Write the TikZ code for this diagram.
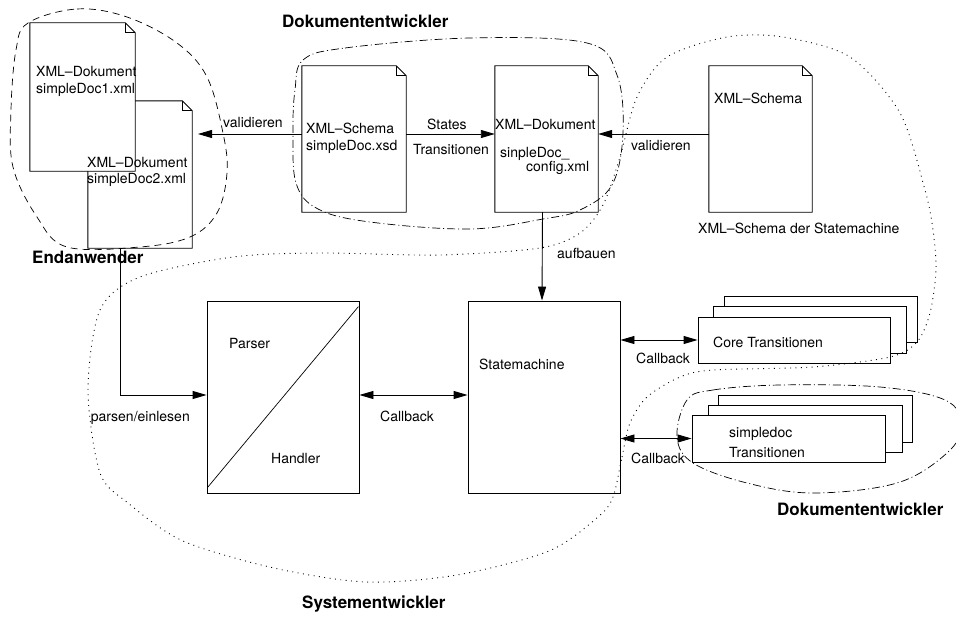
\documentclass[tikz,border=0pt]{standalone}
\usepackage{fontspec}
\setmainfont{TeX Gyre Heros}
\usetikzlibrary{arrows.meta}
\tikzset{
  lbl/.style={font=\fontsize{14}{16}\selectfont, inner sep=0pt, anchor=base west},
  lblr/.style={font=\fontsize{14}{16}\selectfont, inner sep=0pt, anchor=base east},
  role/.style={font=\fontsize{17}{20}\selectfont\bfseries, inner sep=0pt, anchor=base west},
  docline/.style={line width=0.9pt, black},
  anchorbox/.style={draw=none, fill=none, inner sep=0pt},
  plainbox/.style={draw, line width=0.9pt, fill=white, inner sep=0pt},
  arr/.style={line width=0.9pt, -{Triangle[length=14pt,width=8pt]}},
  darr/.style={line width=0.9pt, {Triangle[length=14pt,width=8pt]}-{Triangle[length=14pt,width=8pt]}},
  blobdash/.style={line width=0.7pt, dash pattern=on 7pt off 5pt},
  blobdashdot/.style={line width=0.7pt, dash pattern=on 8pt off 3pt on 1pt off 3pt},
  blobdot/.style={line width=0.9pt, dash pattern=on 0.9pt off 4.5pt},
}
\newcommand{\foldeddoc}[1]{%
  \filldraw[docline, fill=white] (#1.north west) -- ([xshift=-10pt]#1.north east) -- ([yshift=-10pt]#1.north east) -- (#1.south east) -- (#1.south west) -- cycle;
  \draw[docline] ([xshift=-10pt]#1.north east) -- ([xshift=-10pt,yshift=-10pt]#1.north east) -- ([yshift=-10pt]#1.north east);}
\begin{document}
\begin{tikzpicture}[x=1pt,y=-1pt]
\useasboundingbox (0,0) rectangle (956,618);

% documents
\node[anchorbox, minimum width=104pt, minimum height=147pt] (doc2) at (140,174.5) {};
\foldeddoc{doc2}
\node[anchorbox, minimum width=105pt, minimum height=148pt] (doc1) at (82.5,97) {};
\foldeddoc{doc1}
\node[anchorbox, minimum width=104pt, minimum height=146pt] (schema) at (354,139) {};
\foldeddoc{schema}
\node[anchorbox, minimum width=103pt, minimum height=146pt] (config) at (546.5,139) {};
\foldeddoc{config}
\node[anchorbox, minimum width=103pt, minimum height=146pt] (smschema) at (760.5,139) {};
\foldeddoc{smschema}

% texts in documents
\node[lbl] (d1a) at (36,77) {XML–Dokument};
\node[lbl] (d1b) at (36,93) {simpleDoc1.xml};
\node[lbl] (d2a) at (87,167) {XML–Dokument};
\node[lbl] (d2b) at (87,183) {simpleDoc2.xml};
\node[lbl] (sa) at (306,133) {XML–Schema};
\node[lbl] (sb) at (306,150) {simpleDoc.xsd};
\node[lbl] (ca) at (495,129) {XML–Dokument};
\node[lbl] (cb) at (500,157) {sinpleDoc\_};
\node[lbl] (cc) at (526,171) {config.xml};
\node[lbl] (ma) at (714,103) {XML–Schema};
\node[lbl] (mb) at (698,233) {XML–Schema der Statemachine};

% main boxes
\node[plainbox, minimum width=152pt, minimum height=192pt] (parser) at (283,397) {};
\draw[line width=0.7pt] ([xshift=1pt,yshift=6pt]parser.south west) -- ([xshift=-1pt,yshift=-6pt]parser.north east);
\node[lbl] (ptxt) at (229,348) {Parser};
\node[lbl] (htxt) at (271,463) {Handler};
\node[plainbox, minimum width=152pt, minimum height=192pt] (sm) at (544,397) {};
\node[lbl] (smtxt) at (479,369) {Statemachine};

% core transitions stack
\node[plainbox, minimum width=193pt, minimum height=46pt] (core3) at (820.5,319) {};
\node[plainbox, minimum width=193pt, minimum height=47pt] (core2) at (809.5,329.5) {};
\node[plainbox, minimum width=192pt, minimum height=46pt] (core1) at (794,340) {};
\node[lbl] (coretxt) at (713,347) {Core Transitionen};

% simpledoc transitions stack
\node[plainbox, minimum width=194pt, minimum height=47pt] (sd3) at (815,418.5) {};
\node[plainbox, minimum width=194pt, minimum height=47pt] (sd2) at (805,428.5) {};
\node[plainbox, minimum width=193pt, minimum height=47pt] (sd1) at (788.5,438.5) {};
\node[lbl] (sdtxt1) at (729,437) {simpledoc};
\node[lbl] (sdtxt2) at (729,457) {Transitionen};

% connectors
\coordinate (vtip) at (198,134);
\draw[arr] (schema.west |- vtip) -- (vtip);
\node[lbl] (vl1) at (223,128) {validieren};
\draw[arr] ([yshift=5pt]schema.east) -- ([yshift=5pt]config.west);
\node[lbl] (st) at (427,129) {States};
\node[lbl] (tr) at (413,154) {Transitionen};
\draw[arr] ([yshift=5pt]smschema.west) -- ([yshift=5pt]config.east);
\node[lbl] (vl2) at (631,150) {validieren};
\draw[arr] ([xshift=-4pt]config.south) -- ([xshift=-2pt]sm.north);
\node[lbl] (auf) at (557,258) {aufbauen};
\draw[arr] ([xshift=-20pt]doc2.south) |- ([yshift=2pt]parser.west);
\node[lblr] (pe) at (190,421) {parsen/einlesen};
\draw[darr] ([yshift=2pt]parser.east) -- ([yshift=2pt]sm.west);
\node[lbl] (cb1) at (380,421) {Callback};
\draw[darr] (sm.east |- core1.west) -- (core1.west);
\node[lbl] (cb2) at (636,363) {Callback};
\draw[darr] (sm.east |- sd1.west) -- (sd1.west);
\node[lbl] (cb3) at (631,463) {Callback};

% role labels
\node[role] (r1) at (282,28) {Dokumententwickler};
\node[role] (r2) at (32,263) {Endanwender};
\node[role] (r3) at (777,515) {Dokumententwickler};
\node[role] (r4) at (302,608) {Systementwickler};

% group outlines
\draw[blobdash] plot[smooth cycle, tension=0.6] coordinates {(28,23) (77,9) (127,17) (177,43) (207,77) (223,133) (227,173) (217,213) (190,237) (140,247) (67,247) (37,217) (13,167) (11,110) (16,50)};
\draw[blobdashdot] plot[smooth cycle, tension=0.6] coordinates {(303,60) (345,48) (470,38) (587,43) (617,75) (623,133) (612,185) (580,210) (543,219) (470,229) (370,222) (318,209) (296,183) (293,130) (295,90)};
\draw[blobdashdot] plot[smooth cycle, tension=0.6] coordinates {(687,400) (713,390) (780,385) (880,387) (945,400) (962,425) (947,453) (897,483) (813,493) (747,483) (693,463) (677,437)};
\draw[blobdot] plot[smooth cycle, tension=0.5] coordinates {(613,497) (622,457) (630,423) (647,397) (680,377) (713,370) (813,367) (890,357) (917,342) (930,313) (936,270) (933,230) (925,190) (900,113) (850,57) (783,37) (727,37) (667,57) (637,97) (620,157) (603,205) (580,233) (540,248) (440,255) (320,253) (233,257) (140,277) (100,310) (88,390) (100,473) (128,503) (183,541) (274,568) (366,582) (457,575) (549,551) (598,517)};
\end{tikzpicture}
\end{document}
